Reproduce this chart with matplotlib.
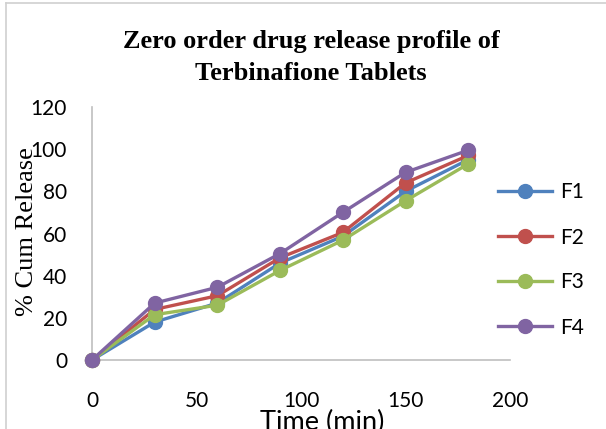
import matplotlib
matplotlib.use("Agg")
import matplotlib.pyplot as plt
from matplotlib.lines import Line2D

time = [0, 30, 60, 90, 120, 150, 180]
F1 = [0, 18, 27, 46, 58.7, 80, 95]
F2 = [0, 24, 30.5, 48.5, 60.5, 84, 97]
F3 = [0, 21.5, 26, 42.5, 56.8, 75.5, 93]
F4 = [0, 27, 34.5, 50.5, 70, 89, 99.5]
series = {"F1": F1, "F2": F2, "F3": F3, "F4": F4}
colors = {"F1": "#4F81BD", "F2": "#C0504D", "F3": "#9BBB59", "F4": "#8064A2"}
xticks = [0, 50, 100, 150, 200]
yticks = [0, 20, 40, 60, 80, 100, 120]

W, H = 606, 429
fig = plt.figure(figsize=(W/100, H/100), dpi=100)
ax = fig.add_axes([92/W, 69/H, 418/W, 253/H])

for name, vals in series.items():
    ax.plot(time, vals, color=colors[name], lw=2.4, marker="o", ms=10,
            label=name, clip_on=False, zorder=3)

ax.set_xlim(0, 200)
ax.set_ylim(0, 120)
ax.set_xticks(xticks)
ax.set_yticks(yticks)
for s in ["top", "right"]:
    ax.spines[s].set_visible(False)
for s in ["left", "bottom"]:
    ax.spines[s].set_color("#BFBFBF")
    ax.spines[s].set_linewidth(1.2)
ax.tick_params(axis="x", length=0, pad=22, labelsize=15)
ax.tick_params(axis="y", length=0, pad=18, labelsize=15)
for lab in ax.get_xticklabels() + ax.get_yticklabels():
    lab.set_fontfamily("Lato")

fig.text(311/W, 1 - 48/H, "Zero order drug release profile of",
         ha="center", va="baseline", fontsize=19, fontweight="bold",
         family="Liberation Serif")
fig.text(311/W, 1 - 80/H, "Terbinafione Tablets",
         ha="center", va="baseline", fontsize=19, fontweight="bold",
         family="Liberation Serif")
fig.text(27/W, 1 - 232/H, "% Cum Release", rotation=90, ha="center", va="center",
         fontsize=19, family="Liberation Serif")
fig.text(322/W, 1 - 430/H, "Time (min)", ha="center", va="baseline",
         fontsize=19.5, family="Lato")

leg = ax.legend(loc="center left", bbox_to_anchor=(498/W, 1 - 260/H),
                bbox_transform=fig.transFigure,
                frameon=False, handlelength=2.6, labelspacing=1.2,
                handletextpad=0.4, borderaxespad=0, borderpad=0,
                prop={"family": "Lato", "size": 15})

fig.add_artist(Line2D([6/W, 6/W], [0, 1 - 3/H], color="#D0D0D0", lw=1.2))
fig.add_artist(Line2D([6/W, 1], [1 - 3/H, 1 - 3/H], color="#D0D0D0", lw=1.2))

fig.savefig("out.png", dpi=100)
